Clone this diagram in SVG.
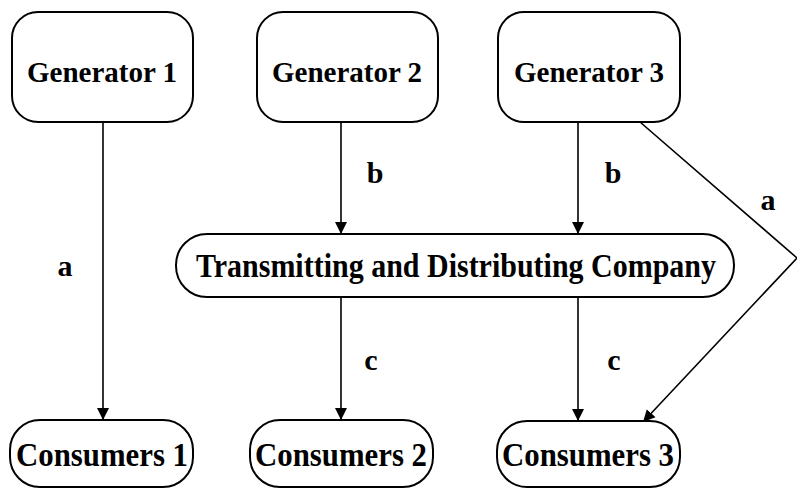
<svg xmlns="http://www.w3.org/2000/svg" width="797" height="489" viewBox="0 0 797 489">
<defs>
<marker id="ah" markerWidth="12" markerHeight="20" viewBox="0 0 12 20" refX="12" refY="10" orient="auto" markerUnits="userSpaceOnUse">
<path d="M0,4 L12,10 L0,16 Z" fill="#000"/>
</marker>
</defs>
<style>
.box{fill:#fff;stroke:#000;stroke-width:2}
.t{font-family:"Liberation Serif","Times New Roman",serif;font-weight:bold;fill:#000;text-anchor:middle}
.g{font-size:29px}
.c{font-size:33px}
.lbl{font-family:"Liberation Serif","Times New Roman",serif;font-weight:bold;font-size:30px;fill:#000;text-anchor:middle}
.e{stroke:#000;stroke-width:1.6;fill:none}
</style>
<rect width="797" height="489" fill="#fff"/>
<g id="connectors">
<line class="e" x1="103" y1="122" x2="103" y2="420" marker-end="url(#ah)"/>
<line class="e" x1="341" y1="122" x2="341" y2="234" marker-end="url(#ah)"/>
<line class="e" x1="578" y1="122" x2="578" y2="234" marker-end="url(#ah)"/>
<line class="e" x1="341" y1="297" x2="341" y2="420" marker-end="url(#ah)"/>
<line class="e" x1="578" y1="297" x2="578" y2="421" marker-end="url(#ah)"/>
<polyline class="e" points="640,122 797,258 643,422" marker-end="url(#ah)"/>
<text class="lbl" x="65" y="276">a</text>
<text class="lbl" x="375" y="183">b</text>
<text class="lbl" x="613" y="183">b</text>
<text class="lbl" x="768" y="210">a</text>
<text class="lbl" x="371" y="370">c</text>
<text class="lbl" x="614" y="370">c</text>
</g>
<g id="gen1"><rect class="box" x="12" y="12" width="181" height="110" rx="26"/><text class="t g" x="102" y="82">Generator 1</text></g>
<g id="gen2"><rect class="box" x="257" y="12" width="181" height="110" rx="26"/><text class="t g" x="347" y="82">Generator 2</text></g>
<g id="gen3"><rect class="box" x="498" y="12" width="182" height="110" rx="26"/><text class="t g" x="589" y="82">Generator 3</text></g>
<g id="tdc"><rect class="box" x="176" y="234" width="558" height="63" rx="31"/><text class="t c" x="456" y="277" textLength="520" lengthAdjust="spacingAndGlyphs">Transmitting and Distributing Company</text></g>
<g id="con1"><rect class="box" x="10" y="420" width="183" height="67" rx="30"/><text class="t c" x="102" y="466" textLength="172" lengthAdjust="spacingAndGlyphs">Consumers 1</text></g>
<g id="con2"><rect class="box" x="250" y="420" width="183" height="67" rx="30"/><text class="t c" x="341" y="466" textLength="172" lengthAdjust="spacingAndGlyphs">Consumers 2</text></g>
<g id="con3"><rect class="box" x="497" y="421" width="183" height="66" rx="30"/><text class="t c" x="588" y="466" textLength="172" lengthAdjust="spacingAndGlyphs">Consumers 3</text></g>
</svg>
